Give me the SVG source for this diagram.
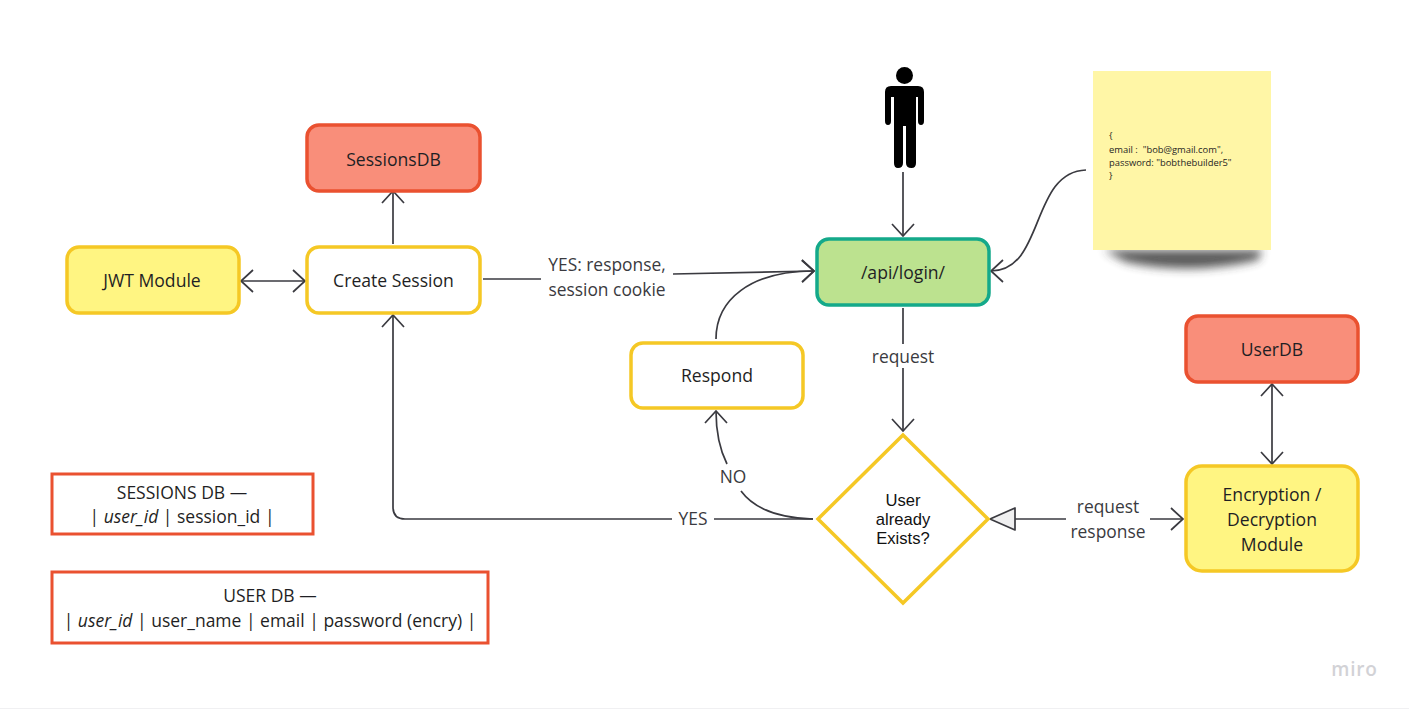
<svg xmlns="http://www.w3.org/2000/svg" width="1409" height="709" viewBox="0 0 1409 709">
<style>
text{font-family:"Open Sans","Noto Sans","Liberation Sans",sans-serif;fill:#1f1f24;text-anchor:middle}
.n{stroke-width:3.5}
.y{stroke:#f5c825}
.r{stroke:#ea5130}
.t{font-size:17.6px}
.d{font-size:17.5px}
.l{font-size:17.4px;fill:#3a3a40}
.k{font-family:"Liberation Sans",Arial,sans-serif;font-size:16.6px;fill:#111}
.s{font-size:9.4px;text-anchor:start;white-space:pre}
.c{fill:none;stroke:#3a3a40;stroke-width:1.7}
.h{fill:none;stroke:#3a3a40;stroke-width:1.7}
</style>
<defs>
<filter id="blur" x="-20%" y="-200%" width="140%" height="500%"><feGaussianBlur stdDeviation="5"/></filter>
<marker id="a" viewBox="0 0 14 24" markerUnits="userSpaceOnUse" markerWidth="14" markerHeight="24" refX="13" refY="12" orient="auto-start-reverse"><path d="M1 1L13 12L1 23" class="h"/></marker>
</defs>
<rect width="1409" height="709" fill="#fff"/>
<path d="M0 708.500H1409" stroke="#f0f0f2"/>

<g id="connectors">
<path class="c" d="M393 244V191" marker-end="url(#a)"/>
<path class="c" d="M241 281H305" marker-start="url(#a)" marker-end="url(#a)"/>
<path class="c" d="M483 279H541"/>
<path class="c" d="M673 274L814 271" marker-end="url(#a)"/>
<path class="c" d="M716 339C716 300 750 271 814 271" marker-end="url(#a)"/>
<path class="c" d="M903 172V236" marker-end="url(#a)"/>
<path class="c" d="M1086 170C1030 172 1045 271 991 271" marker-end="url(#a)"/>
<path class="c" d="M903 308V344"/>
<path class="c" d="M903 368V431" marker-end="url(#a)"/>
<path class="c" d="M813 519H714"/>
<path class="c" d="M672 519H405Q393 519 393 507V315" marker-end="url(#a)"/>
<path class="c" d="M813 519C780 518 755 510 741 491"/>
<path class="c" d="M727 464C720 450 716 430 716 411" marker-end="url(#a)"/>
<path class="c" d="M1015 519H1066"/>
<path d="M990 519L1015 508V530Z" fill="#efeff0" stroke="#3a3a40" stroke-width="1.700" stroke-linejoin="round"/>
<path class="c" d="M1150 519H1183" marker-end="url(#a)"/>
<path class="c" d="M1272 384V464" marker-start="url(#a)" marker-end="url(#a)"/>
</g>

<g id="sessionsdb"><rect class="n r" x="307" y="125" width="173" height="66" rx="12" fill="#f98e7a"/><text class="t" x="393.500" y="166">SessionsDB</text></g>
<g id="jwt"><rect class="n y" x="67" y="247" width="172" height="66" rx="12" fill="#fff582"/><text class="t" x="152" y="287">JWT Module</text></g>
<g id="create-session"><rect class="n y" x="307" y="247" width="173" height="66" rx="12" fill="#fff"/><text class="t" x="393.500" y="287">Create Session</text></g>
<g id="api-login"><rect class="n" x="817" y="239" width="172" height="66" rx="12" fill="#bce28f" stroke="#14a98a"/><text class="t" x="903" y="279">/api/login/</text></g>
<g id="respond"><rect class="n y" x="631" y="343" width="172" height="65" rx="12" fill="#fff"/><text class="t" x="717" y="382">Respond</text></g>
<g id="userdb"><rect class="n r" x="1186" y="316" width="172" height="66" rx="12" fill="#f98e7a"/><text class="t" x="1272" y="356">UserDB</text></g>
<g id="encryption"><rect class="n y" x="1186" y="466" width="172" height="105" rx="16" fill="#fff582"/><text class="t" x="1272" y="501">Encryption /</text><text class="t" x="1272" y="526">Decryption</text><text class="t" x="1272" y="551">Module</text></g>
<g id="decision"><path class="n y" d="M903 435L988 519L903 603L818 519Z" fill="#fff"/>
<text class="k" x="903" y="506">User</text><text class="k" x="903" y="525">already</text><text class="k" x="903" y="544">Exists?</text></g>
<g id="sessions-table"><rect x="52" y="474" width="261" height="60" fill="#fff" stroke="#ea5130" stroke-width="3"/><text class="d" x="182" y="499">SESSIONS DB —</text><text class="d" x="182" y="523">| <tspan font-style="italic">user_id</tspan> | session_id |</text></g>
<g id="user-table"><rect x="52" y="572" width="436" height="71" fill="#fff" stroke="#ea5130" stroke-width="3"/><text class="d" x="270" y="602">USER DB —</text><text class="d" x="270" y="627">| <tspan font-style="italic">user_id</tspan> | user_name | email | password (encry) |</text></g>

<g id="person" fill="#000">
<circle cx="904.500" cy="75.500" r="8.500"/>
<path d="M891 86H918Q924 86 924 92V121Q924 125 921 125Q918 125 918 121V97H916V163Q916 168 911.500 168Q906 168 906 163V126H903V163Q903 168 898 168Q894 168 894 163V97H891V121Q891 125 888 125Q885 125 885 121V92Q885 86 891 86Z"/>
</g>

<g id="sticky">
<path d="M1104 250H1262L1258 260Q1190 276 1126 262Z" fill="#333" filter="url(#blur)" opacity=".8"/>
<rect x="1093" y="71" width="178" height="179" fill="#fff6a6"/>
<text class="s" x="1109" y="139">{</text><text class="s" x="1109" y="153">email :  "bob@gmail.com",</text><text class="s" x="1109" y="166">password: "bobthebuilder5"</text><text class="s" x="1109" y="179">}</text>
</g>

<g id="labels">
<text class="l" x="607" y="271">YES: response,</text>
<text class="l" x="607" y="296">session cookie</text>
<text class="l" x="903" y="363">request</text>
<text class="l" x="733" y="483">NO</text>
<text class="l" x="693" y="525">YES</text>
<text class="l" x="1108" y="513">request</text>
<text class="l" x="1108" y="538">response</text>
<text x="1354.500" y="676" style="font-size:19px;font-weight:600;fill:#d2d2d6;letter-spacing:.8px">miro</text>
</g>
</svg>
